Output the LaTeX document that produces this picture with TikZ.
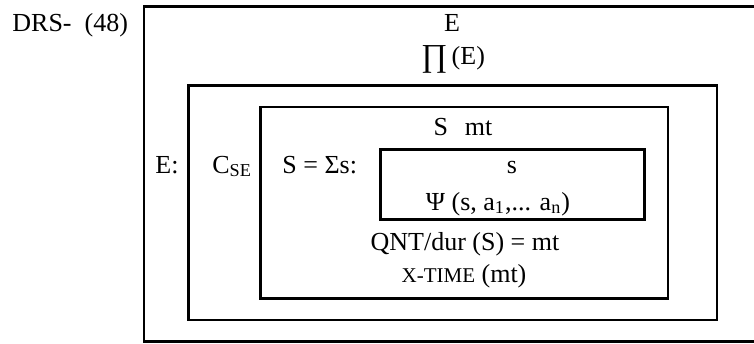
\documentclass[tikz,border=0pt]{standalone}
\usepackage{fontspec}
\setmainfont{Liberation Serif}
\usepackage{tikz}
\usetikzlibrary{positioning}
\tikzset{
  drsframe/.style={draw=black,line width=1.4pt},
  drstext/.style={inner sep=0pt,font=\fontsize{13}{15}\selectfont,anchor=base},
  drssmall/.style={drstext,font=\fontsize{10.5}{12}\selectfont}
}

\begin{document}
\begin{tikzpicture}[x=0.5pt,y=-0.5pt]
  \clip (0,0) rectangle (754,343);
  % nested boxes
  \draw[drsframe] (144,6.5) rectangle (790,341.5);
  \draw[drsframe] (188.5,85.5) rectangle (717,320);
  \draw[drsframe] (260.5,107) rectangle (668,298.7);
  \draw[drsframe] (380.5,149.3) rectangle (644.5,219.3);
  % labels
  \node[drstext,anchor=base west] (label) at (12,31.5) {DRS-\ \ (48)};
  \node[drstext] (eref) at (452,31.5) {E};
  \node[drstext] (eprod) at (453,64) {\raisebox{-1pt}{\fontsize{16}{18}\selectfont ∏}\,(E)};
  \node[drstext,anchor=base west] (ecolon) at (155,173) {E:};
  \node[drstext,anchor=base west] (cse) at (212,173) {C\textsubscript{SE}};
  \node[drstext,anchor=base west] (ssum) at (282,173) {S = Σs:};
  \node[drstext] (smt) at (463,135) {S\hspace{0.65em}mt};
  \node[drstext] (sref) at (512,173) {s};
  \node[drstext] (psi) at (498,210) {Ψ (s, a\textsubscript{1},... a\textsubscript{n})};
  \node[drstext] (qnt) at (465,250) {QNT/dur (S) = mt};
  \node[drstext] (xtime) at (464,282) {{\fontsize{10.5}{12}\selectfont X-TIME} (mt)};
\end{tikzpicture}
\end{document}
